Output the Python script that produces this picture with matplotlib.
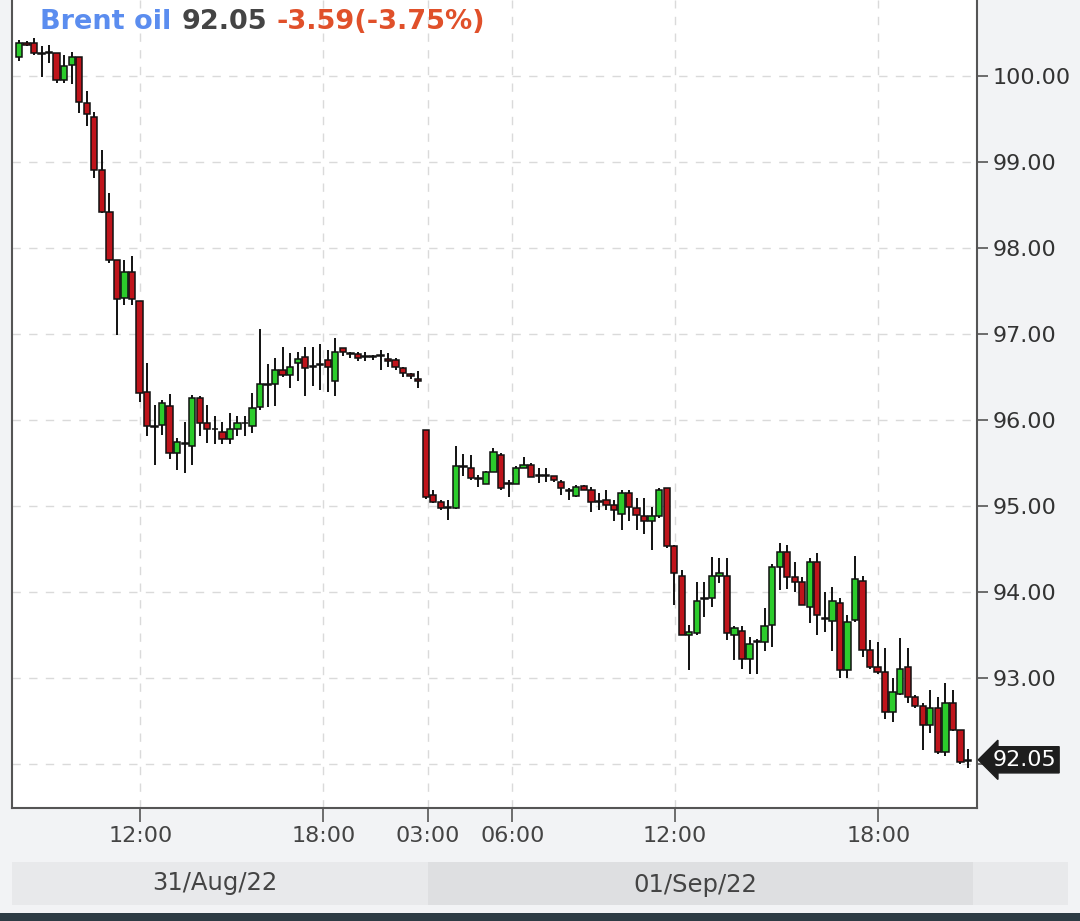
import numpy as np
import matplotlib.pyplot as plt
from matplotlib.patches import Rectangle

# Brent oil, 15-min candles, 31/Aug/22 - 01/Sep/22
opens = [100.22, 100.38, 100.38, 100.26, 100.26, 100.26, 99.95, 100.13, 100.22, 99.68,
         99.52, 98.91, 98.42, 97.86, 97.42, 97.72, 97.38, 96.33, 95.93, 95.94,
         96.16, 95.62, 95.72, 95.70, 96.26, 95.97, 95.90, 95.86, 95.78, 95.90,
         95.96, 95.93, 96.15, 96.42, 96.42, 96.58, 96.52, 96.66, 96.73, 96.62,
         96.64, 96.70, 96.45, 96.83, 96.78, 96.77, 96.74, 96.73, 96.74, 96.71,
         96.70, 96.60, 96.53, 96.48,
         95.88, 95.13, 95.05, 94.99, 94.98, 95.45, 95.44, 95.32, 95.26, 95.40,
         95.59, 95.26, 95.25, 95.44, 95.48, 95.35, 95.35, 95.35, 95.28, 95.19,
         95.12, 95.23, 95.19, 95.05, 95.07, 95.01, 94.91, 95.15, 94.98, 94.88,
         94.82, 94.88, 95.21, 94.54, 94.19, 93.50, 93.52, 93.92, 93.93, 94.19,
         94.19, 93.50, 93.55, 93.22, 93.42, 93.42, 93.62, 94.29, 94.47, 94.18,
         94.12, 93.83, 94.35, 93.69, 93.66, 93.87, 93.09, 93.67, 94.13, 93.33,
         93.13, 93.07, 92.61, 92.82, 93.13, 92.78, 92.67, 92.45, 92.65, 92.14,
         92.71, 92.40, 92.04]
highs = [100.42, 100.40, 100.44, 100.34, 100.36, 100.26, 100.24, 100.28, 100.22, 99.82,
         99.58, 99.14, 98.64, 97.86, 97.86, 97.90, 97.38, 96.66, 96.17, 96.23,
         96.30, 95.79, 95.98, 96.29, 96.28, 96.17, 96.04, 95.98, 96.08, 96.04,
         96.04, 96.31, 97.06, 96.65, 96.72, 96.85, 96.78, 96.79, 96.85, 96.85,
         96.88, 96.81, 96.95, 96.83, 96.79, 96.79, 96.79, 96.76, 96.81, 96.78,
         96.72, 96.62, 96.54, 96.57,
         95.88, 95.19, 95.07, 95.07, 95.70, 95.60, 95.59, 95.36, 95.41, 95.67,
         95.61, 95.30, 95.46, 95.57, 95.50, 95.44, 95.44, 95.35, 95.30, 95.21,
         95.24, 95.24, 95.22, 95.15, 95.18, 95.07, 95.18, 95.18, 95.09, 95.09,
         94.99, 95.21, 95.21, 94.55, 94.26, 93.62, 94.12, 94.12, 94.41, 94.39,
         94.39, 93.60, 93.60, 93.48, 93.45, 93.81, 94.33, 94.57, 94.55, 94.35,
         94.18, 94.39, 94.45, 94.00, 94.06, 93.93, 93.73, 94.42, 94.19, 93.44,
         93.42, 93.35, 93.00, 93.46, 93.35, 92.80, 92.71, 92.86, 92.78, 92.94,
         92.86, 92.40, 92.18]
lows = [100.17, 100.34, 100.24, 99.99, 100.15, 99.92, 99.92, 99.90, 99.57, 99.41,
        98.81, 98.40, 97.82, 96.99, 97.34, 97.34, 96.21, 95.81, 95.48, 95.83,
        95.55, 95.42, 95.38, 95.48, 95.81, 95.73, 95.72, 95.72, 95.72, 95.81,
        95.81, 95.85, 96.12, 96.15, 96.16, 96.50, 96.37, 96.45, 96.28, 96.39,
        96.35, 96.33, 96.28, 96.74, 96.72, 96.68, 96.69, 96.70, 96.58, 96.62,
        96.58, 96.50, 96.48, 96.37,
        95.08, 95.03, 94.95, 94.84, 94.97, 95.35, 95.30, 95.22, 95.25, 95.40,
        95.19, 95.10, 95.25, 95.44, 95.34, 95.27, 95.28, 95.28, 95.13, 95.07,
        95.11, 95.18, 94.93, 94.95, 94.95, 94.82, 94.72, 94.82, 94.72, 94.68,
        94.49, 94.86, 94.51, 93.85, 93.50, 93.09, 93.50, 93.71, 93.83, 94.10,
        93.44, 93.21, 93.11, 93.05, 93.05, 93.31, 93.36, 94.02, 94.04, 94.00,
        93.85, 93.64, 93.50, 93.54, 93.31, 93.00, 93.00, 93.65, 93.25, 93.11,
        93.05, 92.53, 92.49, 92.80, 92.71, 92.65, 92.16, 92.36, 92.12, 92.09,
        92.38, 92.00, 91.95]
closes = [100.38, 100.36, 100.26, 100.25, 100.27, 99.95, 100.11, 100.22, 99.70, 99.55,
          98.91, 98.42, 97.86, 97.40, 97.72, 97.40, 96.31, 95.93, 95.92, 96.20,
          95.61, 95.74, 95.73, 96.26, 95.97, 95.90, 95.89, 95.78, 95.90, 95.97,
          95.96, 96.14, 96.42, 96.40, 96.58, 96.52, 96.62, 96.71, 96.60, 96.62,
          96.65, 96.62, 96.79, 96.79, 96.77, 96.72, 96.73, 96.73, 96.74, 96.68,
          96.62, 96.55, 96.51, 96.45,
          95.11, 95.05, 94.98, 94.98, 95.47, 95.45, 95.32, 95.31, 95.40, 95.63,
          95.21, 95.26, 95.44, 95.48, 95.34, 95.35, 95.35, 95.30, 95.21, 95.17,
          95.22, 95.19, 95.05, 95.05, 95.01, 94.95, 95.15, 94.99, 94.90, 94.82,
          94.88, 95.19, 94.53, 94.22, 93.50, 93.54, 93.90, 93.93, 94.19, 94.22,
          93.52, 93.58, 93.22, 93.40, 93.42, 93.60, 94.29, 94.47, 94.18, 94.12,
          93.85, 94.35, 93.73, 93.69, 93.89, 93.09, 93.65, 94.15, 93.33, 93.13,
          93.07, 92.61, 92.84, 93.11, 92.78, 92.67, 92.45, 92.65, 92.14, 92.71,
          92.40, 92.02, 92.05]

tick_pos = [16.1, 40.4, 54.3, 65.5, 87.1, 114.1]
tick_labels = ['12:00', '18:00', '03:00', '06:00', '12:00', '18:00']
price_ticks = [92, 93, 94, 95, 96, 97, 98, 99, 100]
last_price = 92.05
change = '-3.59(-3.75%)'
days = ['31/Aug/22', '01/Sep/22']

o = np.array(opens)
h = np.array(highs)
l = np.array(lows)
c = np.array(closes)
x = np.arange(len(o))

fig = plt.figure(figsize=(10.8, 9.21), dpi=100, facecolor='#f2f3f5')
ax = fig.add_axes([12/1080, 113/921, 965/1080, 808/921])
ax.set_facecolor('white')

# candles
cols = np.where(c < o, '#bf141b', '#2ccc2c')
ax.vlines(x, l, h, color='#111111', lw=1.4, zorder=2)
body_h = np.maximum(np.abs(c - o), 0.01)
ax.bar(x, body_h, bottom=np.minimum(o, c), width=0.84, color=cols,
       edgecolor='#111111', linewidth=1.1, zorder=3)

ax.set_xlim(-0.93, 127.2)
ax.set_ylim(91.49, 100.88)

ax.set_xticks(tick_pos)
ax.set_xticklabels(tick_labels)
ax.set_yticks(price_ticks)
ax.set_yticklabels([''] + ['%.2f' % p for p in price_ticks[1:]])
ax.yaxis.tick_right()
ax.grid(True, color='#dadada', linestyle=(0, (6, 6)), lw=1, zorder=0)

for s in ['left', 'bottom', 'right']:
    ax.spines[s].set_color('#555555')
    ax.spines[s].set_linewidth(1.5)
ax.spines['top'].set_visible(False)
ax.tick_params(axis='y', length=8, width=1.2, color='#555555', labelsize=16,
               labelcolor='#333333', pad=3)
ax.tick_params(axis='x', length=10, width=1.2, color='#555555', labelsize=16,
               labelcolor='#444444', pad=3)

# last price tag
ax.annotate('%.2f' % last_price, xy=(1.0, last_price), xycoords=('axes fraction', 'data'),
            xytext=(11, 0), textcoords='offset points', ha='left', va='center',
            color='white', fontsize=16, annotation_clip=False,
            bbox=dict(boxstyle='larrow,pad=0.14', fc='#1e1e1e', ec='#1e1e1e'))

# header
fig.canvas.draw()
rend = fig.canvas.get_renderer()
xpos = 40
for txt, col in [('Brent oil', '#5b8def'), ('%.2f' % last_price, '#444444'), (change, '#e0502a')]:
    t = fig.text(xpos/1080, 1 - 29/921, txt, color=col, fontsize=19.5,
                 fontweight='bold', va='baseline')
    bb = t.get_window_extent(rend)
    xpos = bb.x1 + 10

# date band
fig.add_artist(Rectangle((12/1080, 16/921), (428-12)/1080, 43/921,
                         transform=fig.transFigure, fc='#e8e9eb', ec='none'))
fig.add_artist(Rectangle((428/1080, 16/921), (973-428)/1080, 43/921,
                         transform=fig.transFigure, fc='#dedfe1', ec='none'))
fig.add_artist(Rectangle((973/1080, 16/921), (1068-973)/1080, 43/921,
                         transform=fig.transFigure, fc='#e8e9eb', ec='none'))
fig.text(215/1080, 1 - 883/921, days[0], ha='center', va='center', fontsize=17.5, color='#444444')
fig.text(695/1080, 1 - 885/921, days[1], ha='center', va='center', fontsize=17.5, color='#444444')
fig.add_artist(Rectangle((0, 0), 1, 8/921, transform=fig.transFigure, fc='#2d3b44', ec='none'))

fig.savefig('out.png', dpi=100, facecolor=fig.get_facecolor())
